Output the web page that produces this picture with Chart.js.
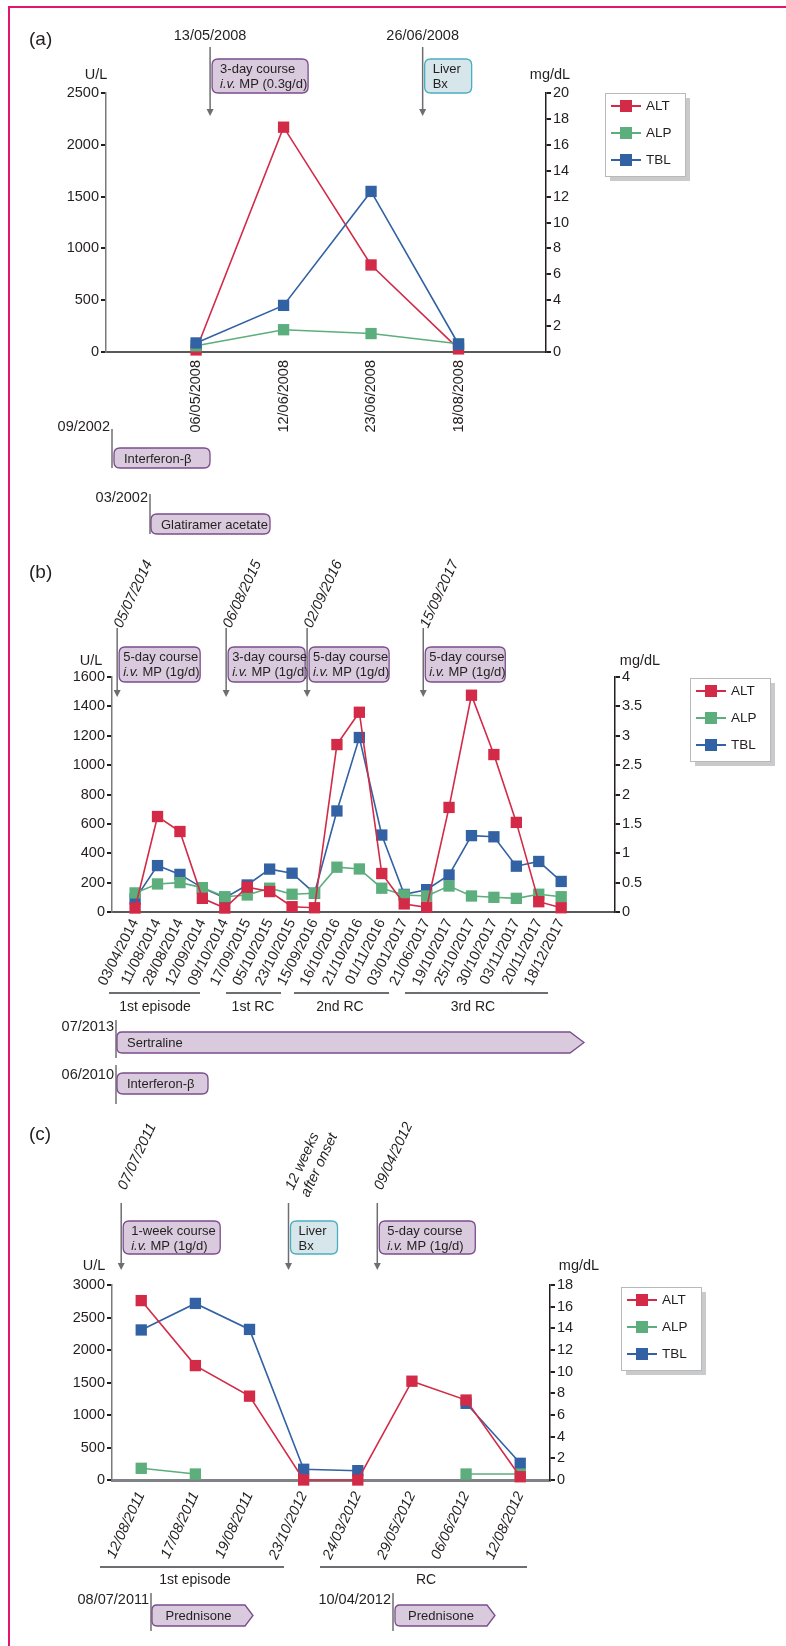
<!DOCTYPE html>
<html>
<head>
<meta charset="utf-8">
<script src="https://cdn.jsdelivr.net/npm/chart.js@4.4.1/dist/chart.umd.min.js"></script>
<style>
  html, body { margin: 0; padding: 0; background: #fff; }
  #page { position: relative; width: 786px; height: 1646px; overflow: hidden; }
  #page::before { content: ''; position: absolute; left: 8px; top: 6px; width: 800px; height: 1700px;
                  border-top: 2px solid #e3166f; border-left: 2px solid #e3166f; }
  canvas { position: absolute; left: 0; }
</style>
</head>
<body>
<div id="page">
  <canvas id="chartA" width="786" height="540" style="top:0px"></canvas>
  <canvas id="chartB" width="786" height="565" style="top:540px"></canvas>
  <canvas id="chartC" width="786" height="541" style="top:1105px"></canvas>
</div>
<script>
// ---- panel (a) ----
const datesA = ['06/05/2008', '12/06/2008', '23/06/2008', '18/08/2008'];
const altA = [20, 2170, 840, 30];
const alpA = [60, 215, 178, 80];
const tblA = [0.7, 3.6, 12.4, 0.6];

// ---- panel (b) ----
const datesB = ['03/04/2014', '11/08/2014', '28/08/2014', '12/09/2014', '09/10/2014',
  '17/09/2015', '05/10/2015', '23/10/2015', '15/09/2016', '16/10/2016', '21/10/2016',
  '01/11/2016', '03/01/2017', '21/06/2017', '19/10/2017', '25/10/2017', '30/10/2017',
  '03/11/2017', '20/11/2017', '18/12/2017'];
const altB = [27, 650, 548, 93, 27, 169, 139, 36, 29, 1140, 1360, 262, 55, 32, 712, 1476, 1072, 610, 70, 29];
const alpB = [130, 191, 200, 166, 104, 116, 162, 121, 128, 305, 293, 162, 116, 109, 177, 109, 100, 93, 121, 104];
const tblB = [0.22, 0.79, 0.64, 0.41, 0.24, 0.46, 0.73, 0.66, 0.32, 1.72, 2.97, 1.31, 0.3, 0.38, 0.63, 1.3, 1.28, 0.78, 0.86, 0.52];

// ---- panel (c) ----
const datesC = ['12/08/2011', '17/08/2011', '19/08/2011', '23/10/2012', '24/03/2012', '29/05/2012', '06/06/2012', '12/08/2012'];
const altC = [2760, 1760, 1290, 0, 0, 1520, 1230, 50];
const alpC = [180, 92, null, null, null, null, 92, 92];
const tblC = [13.85, 16.3, 13.9, 0.99, 0.86, null, 7.08, 1.54];

const FONT = "'Liberation Sans', Arial, Helvetica, sans-serif";
const INK = '#231f20';
const RED = '#d22a47', GREEN = '#5cae7c', BLUE = '#3262a3';
const MP = { fill: '#d9cbdd', edge: '#7b4c8d' };
const BX = { fill: '#d6e6eb', edge: '#4aaec2' };

Chart.defaults.font.family = FONT;
Chart.defaults.color = INK;

function roundRect(ctx, x, y, w, h, r) {
  ctx.beginPath();
  ctx.moveTo(x + r, y);
  ctx.lineTo(x + w - r, y); ctx.quadraticCurveTo(x + w, y, x + w, y + r);
  ctx.lineTo(x + w, y + h - r); ctx.quadraticCurveTo(x + w, y + h, x + w - r, y + h);
  ctx.lineTo(x + r, y + h); ctx.quadraticCurveTo(x, y + h, x, y + h - r);
  ctx.lineTo(x, y + r); ctx.quadraticCurveTo(x, y, x + r, y);
  ctx.closePath();
}

function pentagon(ctx, x, y, w, h, tip, r) {
  ctx.beginPath();
  ctx.moveTo(x + r, y);
  ctx.lineTo(x + w, y);
  ctx.lineTo(x + w + tip, y + h / 2);
  ctx.lineTo(x + w, y + h);
  ctx.lineTo(x + r, y + h); ctx.quadraticCurveTo(x, y + h, x, y + h - r);
  ctx.lineTo(x, y + r); ctx.quadraticCurveTo(x, y, x + r, y);
  ctx.closePath();
}

function textLine(ctx, line, x, y, size) {
  if (Array.isArray(line)) {
    ctx.font = 'italic ' + size + 'px ' + FONT;
    ctx.fillText(line[0], x, y);
    const w = ctx.measureText(line[0]).width;
    ctx.font = size + 'px ' + FONT;
    ctx.fillText(line[1], x + w, y);
  } else {
    ctx.font = size + 'px ' + FONT;
    ctx.fillText(line, x, y);
  }
}

function drawArrow(ctx, px, y0, y1) {
  ctx.strokeStyle = '#6d6e71';
  ctx.fillStyle = '#6d6e71';
  ctx.lineWidth = 1.5;
  ctx.beginPath(); ctx.moveTo(px, y0); ctx.lineTo(px, y1 - 5); ctx.stroke();
  ctx.beginPath(); ctx.moveTo(px - 3.5, y1 - 7); ctx.lineTo(px + 3.5, y1 - 7); ctx.lineTo(px, y1); ctx.closePath(); ctx.fill();
}

// everything around the plot: event arrows, boxes, legend, episode groups, drug bars
function decoPlugin(p) {
  return {
    id: 'deco' + p.id,
    afterDraw(chart) {
      const ctx = chart.ctx;
      const xs = chart.scales.x;
      ctx.save();
      ctx.translate(0, -p.top);
      ctx.fillStyle = INK;
      ctx.textBaseline = 'middle';

      ctx.font = '19px ' + FONT;
      ctx.textAlign = 'left';
      ctx.fillText(p.letter, 29, p.letterY);

      ctx.font = '14.5px ' + FONT;
      ctx.textAlign = 'center';
      ctx.fillText('U/L', p.units[0], p.units[2]);
      ctx.fillText('mg/dL', p.units[1], p.units[2]);

      p.events.forEach(ev => {
        const px = xs.getPixelForValue(ev.at);
        drawArrow(ctx, px, p.arrowY[0], p.arrowY[1]);
        ctx.fillStyle = INK;
        if (p.dateRot) {
          ctx.save();
          ctx.translate(px + 1, p.dateY);
          ctx.rotate(-p.dateRot * Math.PI / 180);
          ctx.font = 'italic 14.5px ' + FONT;
          ctx.textAlign = 'left';
          ev.date.forEach((d, k) => ctx.fillText(d, 0, k * 17));
          ctx.restore();
        } else {
          ctx.font = '14.5px ' + FONT;
          ctx.textAlign = 'center';
          ctx.fillText(ev.date[0], px, p.dateY);
        }
        const st = ev.kind === 'bx' ? BX : MP;
        const bx = px + 2, by = p.boxY[0], bh = p.boxY[1] - p.boxY[0];
        roundRect(ctx, bx, by, ev.w, bh, 6);
        ctx.fillStyle = st.fill; ctx.fill();
        ctx.strokeStyle = st.edge; ctx.lineWidth = 1.3; ctx.stroke();
        ctx.fillStyle = INK;
        ctx.textAlign = 'left';
        ev.lines.forEach((ln, k) => textLine(ctx, ln, bx + p.boxPad, by + 10 + k * 15, 13));
      });

      // legend box with drop shadow
      const lg = p.legend, lw = 80, lh = 83;
      ctx.fillStyle = '#c9cacc'; ctx.fillRect(lg[0] + 5, lg[1] + 5, lw, lh);
      ctx.fillStyle = '#fff'; ctx.fillRect(lg[0], lg[1], lw, lh);
      ctx.strokeStyle = '#b9b9b9'; ctx.lineWidth = 1; ctx.strokeRect(lg[0] + 0.5, lg[1] + 0.5, lw, lh);
      chart.data.datasets.forEach((ds, i) => {
        const y = lg[1] + 13 + i * 27;
        ctx.strokeStyle = ds.borderColor; ctx.lineWidth = 2;
        ctx.beginPath(); ctx.moveTo(lg[0] + 6, y); ctx.lineTo(lg[0] + 36, y); ctx.stroke();
        ctx.fillStyle = ds.borderColor; ctx.fillRect(lg[0] + 15, y - 6, 12, 12);
        ctx.fillStyle = INK; ctx.font = '13.5px ' + FONT; ctx.textAlign = 'left';
        ctx.fillText(ds.label, lg[0] + 41, y);
      });

      (p.groups || []).forEach(g => {
        ctx.strokeStyle = '#6d6e71'; ctx.lineWidth = 2;
        ctx.beginPath(); ctx.moveTo(g.x0, p.groupY[0]); ctx.lineTo(g.x1, p.groupY[0]); ctx.stroke();
        ctx.fillStyle = INK; ctx.font = '14px ' + FONT; ctx.textAlign = 'center';
        ctx.fillText(g.text, g.tx, p.groupY[1]);
      });

      p.drugs.forEach(d => {
        ctx.fillStyle = INK; ctx.font = '14.5px ' + FONT; ctx.textAlign = 'right';
        ctx.fillText(d.date, d.lx - 2, d.ty);
        ctx.strokeStyle = '#58595b'; ctx.lineWidth = 1.3;
        ctx.beginPath(); ctx.moveTo(d.lx, d.ly[0]); ctx.lineTo(d.lx, d.ly[1]); ctx.stroke();
        const h = d.by[1] - d.by[0];
        if (d.tip) pentagon(ctx, d.bx[0], d.by[0], d.bx[1] - d.bx[0], h, d.tip, 5);
        else roundRect(ctx, d.bx[0], d.by[0], d.bx[1] - d.bx[0], h, 6);
        ctx.fillStyle = MP.fill; ctx.fill();
        ctx.strokeStyle = MP.edge; ctx.lineWidth = 1.3; ctx.stroke();
        ctx.fillStyle = INK; ctx.font = '13px ' + FONT; ctx.textAlign = d.center ? 'center' : 'left';
        ctx.fillText(d.text, d.center ? (d.bx[0] + d.bx[1]) / 2 : d.bx[0] + 10, d.by[0] + h / 2 + 1);
      });
      ctx.restore();
    }
  };
}

function buildPanel(p) {
  const pts = arr => arr.map((v, i) => ({ x: i, y: v }));
  const series = (label, arr, color, axis, order) => ({
    label, data: pts(arr), yAxisID: axis, order,
    borderColor: color, backgroundColor: color,
    pointBackgroundColor: color, pointBorderWidth: 0,
    pointStyle: 'rect', pointRadius: 8, pointHoverRadius: 8,
    borderWidth: 1.6, tension: 0, spanGaps: false, clip: false
  });
  const yTicks = { color: INK, font: { size: 14.5 }, padding: 2, callback: v => String(v) };
  return new Chart(document.getElementById(p.id), {
    type: 'line',
    data: {
      datasets: [
        series('ALT', p.alt, RED, 'yL', p.order[0]),
        series('ALP', p.alp, GREEN, 'yL', p.order[1]),
        series('TBL', p.tbl, BLUE, 'yR', p.order[2])
      ]
    },
    options: {
      responsive: false,
      animation: false,
      layout: { padding: p.pad },
      plugins: { legend: { display: false }, tooltip: { enabled: false } },
      scales: {
        x: {
          type: 'linear', min: p.xr[0], max: p.xr[1],
          afterBuildTicks: s => { s.ticks = p.labels.map((_, i) => ({ value: i })); },
          afterFit: s => { s.height = 90; },
          grid: { display: false, drawTicks: false },
          border: { display: true, color: p.xAxisColor, width: p.xAxisWidth },
          ticks: {
            autoSkip: false, minRotation: p.rot, maxRotation: p.rot, padding: p.xPad,
            color: INK, font: { size: 14.5, style: p.italicTicks ? 'italic' : 'normal' },
            callback: v => p.labels[v]
          }
        },
        yL: {
          position: 'left', min: 0, max: p.yL[0],
          afterFit: s => { s.width = 60; },
          grid: { drawOnChartArea: false, tickLength: 5, color: '#231f20', lineWidth: 2 },
          border: { display: true, color: '#7a7a7a', width: 1.5 },
          ticks: Object.assign({ stepSize: p.yL[1] }, yTicks)
        },
        yR: {
          position: 'right', min: 0, max: p.yR[0],
          afterFit: s => { s.width = 50; },
          grid: { drawOnChartArea: false, tickLength: 5, color: '#231f20', lineWidth: 2 },
          border: { display: true, color: '#231f20', width: 1.5 },
          ticks: Object.assign({ stepSize: p.yR[1] }, yTicks)
        }
      }
    },
    plugins: [decoPlugin(p)]
  });
}

const mpLines = dose => [['i.v.', ' MP (' + dose + ')']];

buildPanel({
  id: 'chartA', top: 0, letter: '(a)', letterY: 40,
  labels: datesA, alt: altA, alp: alpA, tbl: tblA, order: [3, 2, 1],
  pad: { left: 46, right: 190, top: 93, bottom: 98 },
  xr: [-1.03, 4.0], rot: 90, xPad: 8, italicTicks: false,
  xAxisColor: '#58595b', xAxisWidth: 2,
  yL: [2500, 500], yR: [20, 2],
  units: [96, 550, 75],
  arrowY: [47, 116], dateY: 36, dateRot: 0, boxY: [59, 93], boxPad: 8,
  events: [
    { at: 0.16, date: ['13/05/2008'], w: 96, kind: 'mp', lines: ['3-day course'].concat(mpLines('0.3g/d')) },
    { at: 2.59, date: ['26/06/2008'], w: 47, kind: 'bx', lines: ['Liver', 'Bx'] }
  ],
  legend: [605, 93],
  drugs: [
    { date: '09/2002', lx: 112, ty: 427, ly: [429, 468], bx: [114, 210], by: [448, 468], text: 'Interferon-\u03b2' },
    { date: '03/2002', lx: 150, ty: 498, ly: [494, 534], bx: [151, 270], by: [514, 534], text: 'Glatiramer acetate' }
  ]
});

buildPanel({
  id: 'chartB', top: 540, letter: '(b)', letterY: 573,
  labels: datesB, alt: altB, alp: alpB, tbl: tblB, order: [1, 2, 3],
  pad: { left: 52, right: 121, top: 137, bottom: 103 },
  xr: [-1.03, 21.4], rot: 63, xPad: 4, italicTicks: false,
  xAxisColor: '#58595b', xAxisWidth: 2,
  yL: [1600, 200], yR: [4, 0.5],
  units: [91, 640, 661],
  arrowY: [628, 697], dateY: 627, dateRot: 65, boxY: [647, 682], boxPad: 4,
  events: [
    { at: -0.8, date: ['05/07/2014'], w: 81, kind: 'mp', lines: ['5-day course'].concat(mpLines('1g/d')) },
    { at: 4.06, date: ['06/08/2015'], w: 77, kind: 'mp', lines: ['3-day course'].concat(mpLines('1g/d')) },
    { at: 7.67, date: ['02/09/2016'], w: 80, kind: 'mp', lines: ['5-day course'].concat(mpLines('1g/d')) },
    { at: 12.85, date: ['15/09/2017'], w: 80, kind: 'mp', lines: ['5-day course'].concat(mpLines('1g/d')) }
  ],
  legend: [690, 678],
  groupY: [993, 1007],
  groups: [
    { x0: 109, x1: 200, tx: 155, text: '1st episode' },
    { x0: 226, x1: 281, tx: 253, text: '1st RC' },
    { x0: 294, x1: 389, tx: 340, text: '2nd RC' },
    { x0: 405, x1: 548, tx: 473, text: '3rd RC' }
  ],
  drugs: [
    { date: '07/2013', lx: 116, ty: 1027, ly: [1020, 1058], bx: [117, 570], by: [1032, 1053], tip: 14, text: 'Sertraline' },
    { date: '06/2010', lx: 116, ty: 1075, ly: [1065, 1104], bx: [117, 208], by: [1073, 1094], text: 'Interferon-\u03b2' }
  ]
});

buildPanel({
  id: 'chartC', top: 1105, letter: '(c)', letterY: 1135,
  labels: datesC, alt: altC, alp: alpC, tbl: tblC, order: [1, 2, 3],
  pad: { left: 52, right: 186, top: 180, bottom: 76 },
  xr: [-0.54, 7.55], rot: 65, xPad: 9, italicTicks: true,
  xAxisColor: '#808285', xAxisWidth: 3,
  yL: [3000, 500], yR: [18, 2],
  units: [94, 579, 1266],
  arrowY: [1203, 1270], dateY: 1189, dateRot: 65, boxY: [1221, 1254], boxPad: 8,
  events: [
    { at: -0.37, date: ['07/07/2011'], w: 97, kind: 'mp', lines: ['1-week course'].concat(mpLines('1g/d')) },
    { at: 2.72, date: ['12 weeks', 'after onset'], w: 47, kind: 'bx', lines: ['Liver', 'Bx'] },
    { at: 4.36, date: ['09/04/2012'], w: 96, kind: 'mp', lines: ['5-day course'].concat(mpLines('1g/d')) }
  ],
  legend: [621, 1287],
  groupY: [1567, 1580],
  groups: [
    { x0: 100, x1: 284, tx: 195, text: '1st episode' },
    { x0: 320, x1: 527, tx: 426, text: 'RC' }
  ],
  drugs: [
    { date: '08/07/2011', lx: 151, ty: 1600, ly: [1593, 1631], bx: [152, 245], by: [1605, 1626], tip: 8, center: true, text: 'Prednisone' },
    { date: '10/04/2012', lx: 393, ty: 1600, ly: [1593, 1631], bx: [395, 487], by: [1605, 1626], tip: 8, center: true, text: 'Prednisone' }
  ]
});
</script>
</body>
</html>
